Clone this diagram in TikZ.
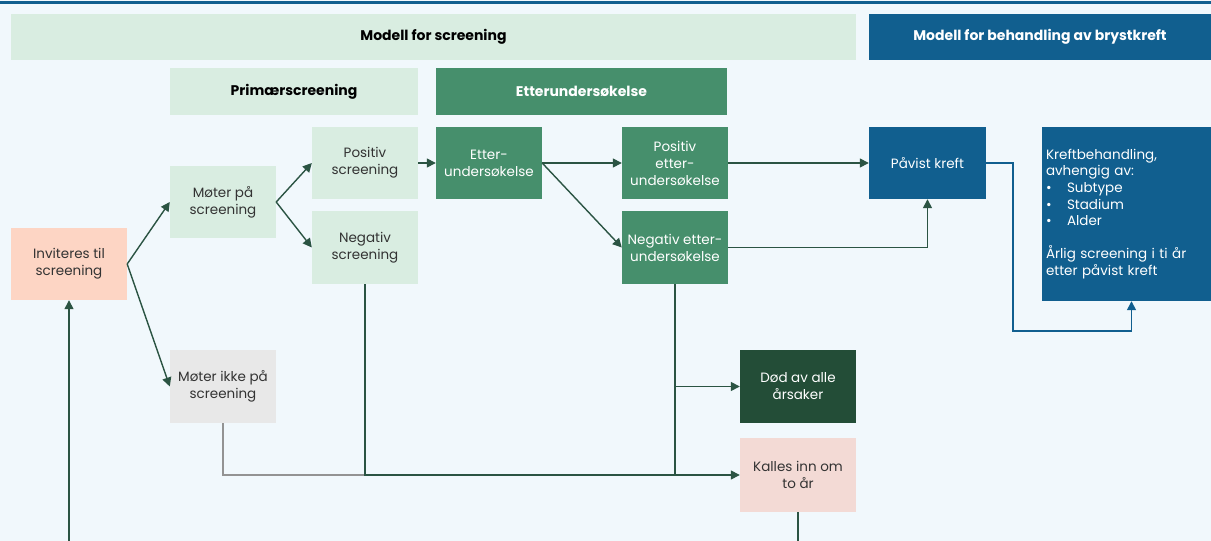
\documentclass[tikz,border=0pt]{standalone}
\usepackage{fontspec}
\setmainfont{Poppins}
\usetikzlibrary{arrows.meta}
\definecolor{bgblue}{HTML}{F1F8FC}
\definecolor{paleGreen}{HTML}{D9EDE1}
\definecolor{midGreen}{HTML}{468F6C}
\definecolor{deepGreen}{HTML}{234D37}
\definecolor{lineGreen}{HTML}{2B5443}
\definecolor{navy}{HTML}{115F8F}
\definecolor{peach}{HTML}{FDD5C4}
\definecolor{rose}{HTML}{F3DAD5}
\definecolor{paleGrey}{HTML}{E8E8E8}
\definecolor{txtGrey}{HTML}{333333}

\begin{document}
\begin{tikzpicture}[x=1pt,y=-1pt,>={Triangle[length=9pt,width=9pt]},
  box/.style={minimum width=106pt,minimum height=72pt,inner sep=1pt,align=center,
    font=\fontsize{13.5}{17}\selectfont,text=txtGrey},
  pale/.style={box,fill=paleGreen},
  mid/.style={box,fill=midGreen,text=white},
  banner/.style={minimum height=46pt,font=\bfseries\fontsize{14}{16}\selectfont},
  flow/.style={->,draw=lineGreen,line width=1.4pt}]
  \fill[bgblue] (0,0) rectangle (1211,541);
  \useasboundingbox (0,0) rectangle (1211,541);
  \fill[navy] (0,1) rectangle (1211,4);

  \node[banner,fill=paleGreen,minimum width=845pt] (scrTitle) at (433.5,37) {Modell for screening};
  \node[banner,fill=navy,text=white,minimum width=342pt] (treatTitle) at (1040,37) {Modell for behandling av brystkreft};
  \node[banner,fill=paleGreen,minimum width=248pt,minimum height=47pt] (primTitle) at (294,91.5) {Primærscreening};
  \node[banner,fill=midGreen,text=white,minimum width=291pt,minimum height=47pt] (etterTitle) at (581.5,91.5) {Etterundersøkelse};

  \node[box,fill=peach,minimum width=116pt] (invite) at (69,264) {Inviteres til\\screening};
  \node[pale] (meet) at (223,202) {Møter på\\screening};
  \node[box,fill=paleGrey,minimum height=73pt] (noshow) at (223,386.5) {Møter ikke på\\screening};
  \node[pale] (posScr) at (365,163) {Positiv\\screening};
  \node[pale,minimum height=73pt] (negScr) at (365,247.5) {Negativ\\screening};
  \node[mid] (etter) at (489,163) {Etter-\\undersøkelse};
  \node[mid] (posEtter) at (675,163) {Positiv\\etter-\\undersøkelse};
  \node[mid,minimum height=73pt] (negEtter) at (675,247.5) {Negativ etter-\\undersøkelse};
  \node[box,fill=deepGreen,text=white,minimum width=116pt,minimum height=73pt] (death) at (798,386.5) {Død av alle\\årsaker};
  \node[box,fill=rose,minimum width=116pt,minimum height=74pt] (recall) at (798,475) {Kalles inn om\\to år};
  \node[box,fill=navy,text=white,minimum width=117pt] (found) at (927.5,163) {Påvist kreft};
  \node[box,fill=navy,text=white,minimum width=169pt,minimum height=174pt,
    align=left,text width=161pt,inner sep=4pt,font=\fontsize{13.5}{16.6}\selectfont] (treat) at (1126.5,214)
    {Kreftbehandling,\\avhengig av:\\\makebox[21pt][l]{\textbullet}Subtype\\
     \makebox[21pt][l]{\textbullet}Stadium\\\makebox[21pt][l]{\textbullet}Alder\\[16.6pt]
     Årlig screening i ti år\\etter påvist kreft};

  \coordinate (leftFoot) at (69,541);
  \coordinate (recallFoot) at (798,541);
  \coordinate (treatBend) at (1013,331);

  \draw[flow] (invite.east) -- (meet.west);
  \draw[flow] (invite.east) -- (noshow.west);
  \draw[flow] (meet.east) -- (posScr.west);
  \draw[flow] (meet.east) -- (negScr.west);
  \draw[flow] (posScr.east) -- (etter.west);
  \draw[flow] (etter.east) -- (posEtter.west);
  \draw[flow] (etter.east) -- (negEtter.west);
  \draw[flow] (posEtter.east) -- (found.west);
  \draw[flow] (negEtter.east) -| (found.south);
  \draw[draw=gray!85,line width=1.4pt] (noshow.south) |- (negScr.south |- recall.west);
  \draw[flow] (negScr.south) |- (recall.west);
  \draw[draw=lineGreen,line width=1.4pt] (negEtter.south) -- (negEtter.south |- recall.west);
  \draw[flow] (negEtter.south |- death.west) -- (death.west);
  \draw[flow] (leftFoot) -- (invite.south);
  \draw[draw=lineGreen,line width=1.4pt] (recall.south) -- (recallFoot);
  \draw[->,draw=navy,line width=1.4pt] (found.east) -| (treatBend) -| ([xshift=5pt]treat.south);
\end{tikzpicture}
\end{document}
